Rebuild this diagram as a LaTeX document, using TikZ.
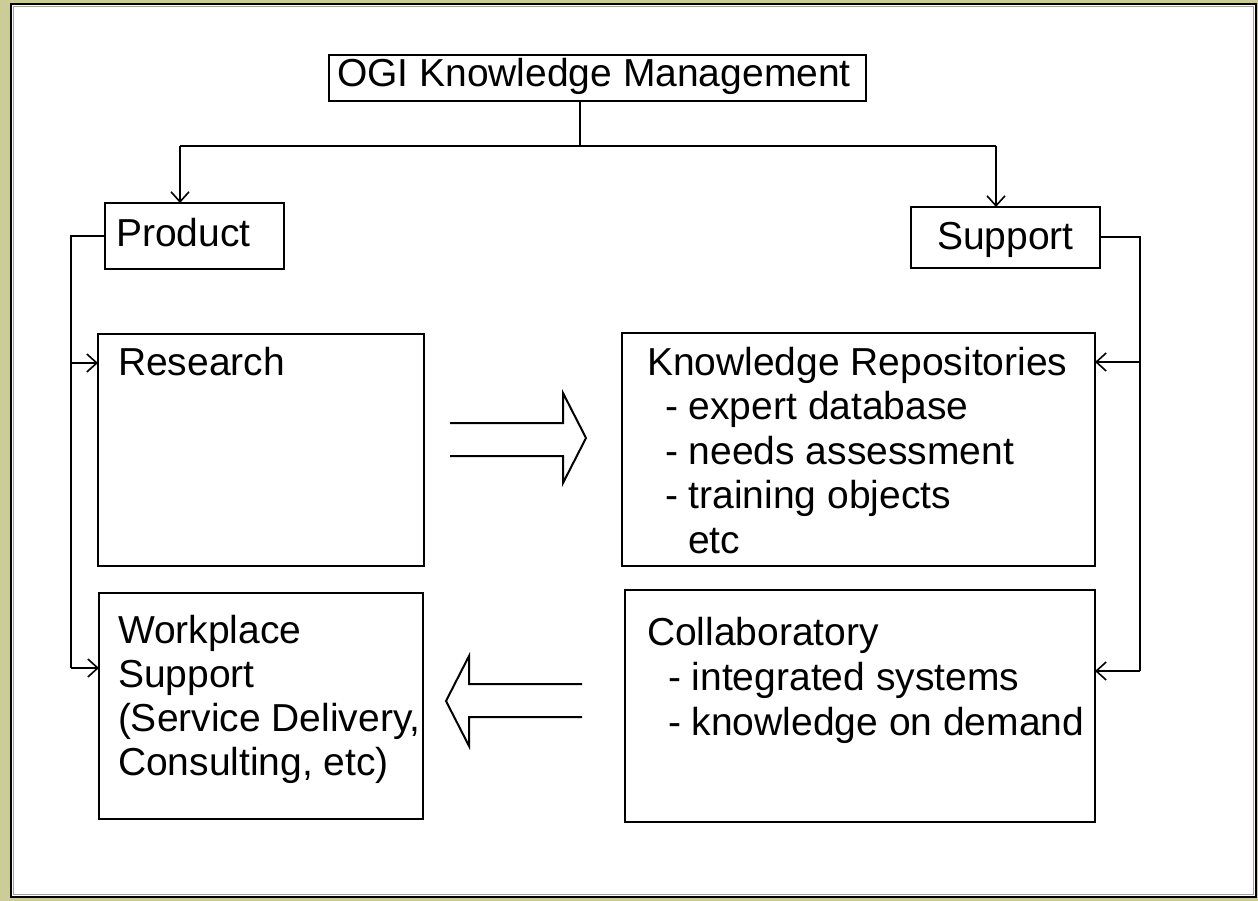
\documentclass[tikz,border=0pt]{standalone}
\usepackage{fontspec}
\setmainfont{Liberation Sans}
\usetikzlibrary{arrows.meta}
\definecolor{framebg}{HTML}{CCCC99}
\definecolor{innerline}{HTML}{A0A0A0}
\begin{document}
\begin{tikzpicture}[x=1pt,y=-1pt]
\tikzset{
  box/.style={draw, line width=2pt, inner sep=0pt, outer sep=0pt, anchor=north west},
  txt/.style={inner sep=0pt, outer sep=0pt, anchor=base west, font=\fontsize{39}{44}\selectfont},
  conn/.style={draw, line width=2pt},
  tip/.style={-{Straight Barb[length=10pt,width=18pt,line width=1.6pt]}},
  blockarrow/.style={draw, line width=2pt, line join=miter},
}
\useasboundingbox (0,0) rectangle (1258,901);
% frame
\fill[framebg] (0,0) rectangle (1258,901);
\fill[white] (11,4) rectangle (1256,897);
\draw[innerline, line width=1.5pt] (13.5,6.5) rectangle (1253.5,894.5);
\draw[black, line width=2pt] (11,4) rectangle (1256,897);

% boxes
\node[box, minimum width=537pt, minimum height=46pt] (ogi) at (329,55) {};
\node[box, minimum width=179pt, minimum height=66pt] (prod) at (105,203) {};
\node[box, minimum width=189pt, minimum height=61pt] (sup) at (911,207) {};
\node[box, minimum width=326pt, minimum height=232pt] (res) at (98,334) {};
\node[box, minimum width=473pt, minimum height=233pt] (kr) at (622,333) {};
\node[box, minimum width=324pt, minimum height=226pt] (work) at (99,593) {};
\node[box, minimum width=470pt, minimum height=232pt] (col) at (625,590) {};

% texts
\node[txt] (ogit) at (337,87) {OGI Knowledge Management};
\node[txt] (prodt) at (116,247) {Product};
\node[txt] (supt) at (937,250) {Support};
\node[txt] (rest) at (118,375) {Research};
\node[txt] (kr1) at (647,375) {Knowledge Repositories};
\node[txt] (kr2) at (665,419.5) {- expert database};
\node[txt] (kr3) at (665,464) {- needs assessment};
\node[txt] (kr4) at (665,508.5) {- training objects};
\node[txt] (kr5) at (688,553) {etc};
\node[txt] (w1) at (118,643) {Workplace};
\node[txt] (w2) at (118,687) {Support};
\node[txt] (w3) at (118,731) {(Service Delivery,};
\node[txt] (w4) at (118,775) {Consulting, etc)};
\node[txt] (c1) at (647,645) {Collaboratory};
\node[txt] (c2) at (668,690) {- integrated systems};
\node[txt] (c3) at (668,735) {- knowledge on demand};

% connector coordinates
\coordinate (hv) at (580,146);
\coordinate (hl) at (180,146);
\coordinate (hr) at (996,146);
\coordinate (la) at (71,363);
\coordinate (lb) at (71,668);
\coordinate (ra) at (1140,362);
\coordinate (rb) at (1140,671);

% connectors
\draw[conn] (ogi.south -| hv) -- (hv);
\draw[conn] (hl) -- (hr);
\draw[conn, tip] (hl) -- (hl |- prod.north);
\draw[conn, tip] (hr) -- (hr |- sup.north);
\draw[conn] (prod.west) -| (lb);
\draw[conn, tip] (la) -- (la -| res.west);
\draw[conn, tip] (lb) -- (lb -| work.west);
\draw[conn] (sup.east) -| (rb);
\draw[conn, tip] (ra) -- (ra -| kr.east);
\draw[conn, tip] (rb) -- (rb -| col.east);

% block arrows
\draw[blockarrow] (450,423) -- (563,423) -- (563,393) -- (586,438) -- (563,483) -- (563,456) -- (450,456);
\draw[blockarrow] (582,684) -- (469,684) -- (469,656) -- (446,701) -- (469,746) -- (469,717) -- (582,717);
\end{tikzpicture}
\end{document}
